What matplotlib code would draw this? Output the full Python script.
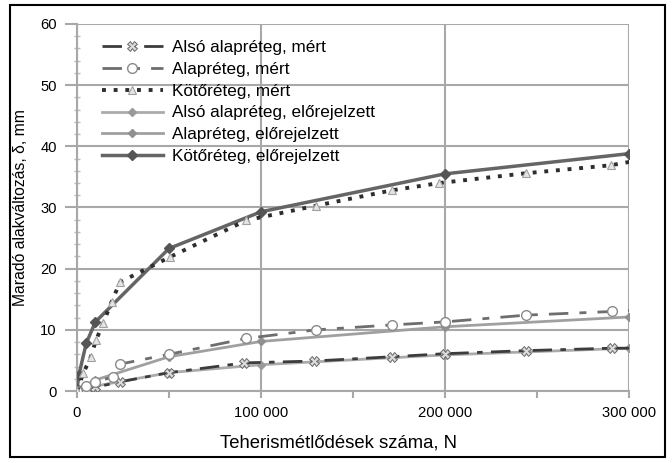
import matplotlib
matplotlib.use("Agg")
import matplotlib.pyplot as plt
import matplotlib.patches as patches
from matplotlib.ticker import FuncFormatter, MultipleLocator

plt.rcParams['font.family'] = ['Liberation Sans', 'DejaVu Sans']
plt.rcParams['font.size'] = 10.6

# mért értékek
n_also_mert = [0, 5000, 10000, 23400, 50000, 91000, 129000, 171000, 200000, 244000, 291000, 303000]
v_also_mert = [0, 0.3, 0.6, 1.5, 3.0, 4.6, 4.9, 5.6, 6.1, 6.6, 7.0, 7.0]

n_alap_mert = [0, 5000, 10000, 19700, 23400, 50000, 92000, 130000, 171000, 200000, 244000, 291000, 303000]
v_alap_mert = [0, 0.8, 1.5, 2.3, 4.4, 6.0, 8.6, 10.0, 10.8, 11.3, 12.4, 13.0, 13.2]

n_koto_mert = [0, 3400, 7400, 10300, 14300, 18800, 23400, 50500, 92000, 130000, 171000, 197000, 244000, 290000, 303000]
v_koto_mert = [0, 2.9, 5.5, 8.3, 11.1, 14.6, 17.8, 21.9, 27.9, 30.3, 32.8, 34.0, 35.6, 36.9, 37.6]

# előrejelzett értékek
n_pred = [0, 1000, 5000, 10000, 50000, 100000, 200000, 300000]
v_also_pred = [0, 0.1, 0.4, 0.8, 3.0, 4.3, 5.9, 7.0]
v_alap_pred = [0, 0.3, 1.0, 1.8, 5.6, 8.1, 10.5, 12.1]
v_koto_pred = [0.3, 2.6, 7.8, 11.3, 23.3, 29.3, 35.5, 38.8]

x_ticks = [0, 100000, 200000, 300000]
y_ticks = [0, 10, 20, 30, 40, 50, 60]

fig = plt.figure(figsize=(6.72, 4.63), dpi=100)
ax = fig.add_axes([0.1146, 0.1555, 0.8214, 0.7927])

grid_c = '#a8a8a8'

ax.plot(n_also_mert, v_also_mert, color='#3c3c3c', lw=2.0, dashes=(7, 3, 2, 3),
        marker='X', ms=7, mfc='#dcdcdc', mec='#6a6a6a', mew=0.7,
        label='Alsó alapréteg, mért', zorder=4)
ax.plot(n_alap_mert, v_alap_mert, color='#6e6e6e', lw=2.0, dashes=(7, 4, 2.5, 4),
        marker='o', ms=7, mfc='white', mec='#8a8a8a', mew=1.0,
        label='Alapréteg, mért', zorder=4)
ax.plot(n_koto_mert, v_koto_mert, color='#2e2e2e', lw=2.8, dashes=(1.0, 2.0),
        marker='^', ms=6, mfc='#e4e4e4', mec='#a0a0a0', mew=0.8,
        label='Kötőréteg, mért', zorder=4)
ax.plot(n_pred, v_also_pred, color='#ababab', lw=2.0,
        marker='D', ms=4, mfc='#9a9a9a', mec='#9a9a9a',
        label='Alsó alapréteg, előrejelzett', zorder=3)
ax.plot(n_pred, v_alap_pred, color='#a0a0a0', lw=2.0,
        marker='D', ms=4, mfc='#909090', mec='#909090',
        label='Alapréteg, előrejelzett', zorder=3)
ax.plot(n_pred, v_koto_pred, color='#656565', lw=2.5,
        marker='D', ms=5, mfc='#555555', mec='#555555',
        label='Kötőréteg, előrejelzett', zorder=3)

ax.set_xlim(0, 300000)
ax.set_ylim(0, 60)
ax.set_xticks(x_ticks)
ax.set_yticks(y_ticks)
ax.xaxis.set_minor_locator(MultipleLocator(50000))
ax.yaxis.set_minor_locator(MultipleLocator(2))
ax.xaxis.set_major_formatter(FuncFormatter(lambda x, pos: f'{int(x):,}'.replace(',', ' ')))

ax.grid(True, which='major', color=grid_c, lw=1.5)
ax.set_axisbelow(True)
for side in ['top', 'right']:
    ax.spines[side].set_visible(False)
for side in ['left', 'bottom']:
    ax.spines[side].set_color(grid_c)
    ax.spines[side].set_linewidth(1.5)

ax.tick_params(axis='y', which='major', length=9, width=1.5, color=grid_c, pad=5.5)
ax.tick_params(axis='y', which='minor', length=5, width=1.0, color='#bbbbbb', direction='inout')
ax.tick_params(axis='x', which='both', length=5, width=1.5, color=grid_c, pad=6)

ax.set_xlabel('Teherismétlődések száma, N', fontsize=13.3, labelpad=7)
ax.xaxis.set_label_coords(0.473, -0.118)
ax.set_ylabel('Maradó alakváltozás, δ, mm', fontsize=11.3, labelpad=9)

ax.legend(loc='upper left', bbox_to_anchor=(0.032, 0.975), frameon=False,
          handlelength=3.6, handletextpad=0.55, labelspacing=0.4, fontsize=12.3,
          borderaxespad=0)

# keret az egész ábra körül
fig.patches.append(patches.Rectangle((0.015, 0.012), 0.975, 0.977, transform=fig.transFigure,
                                     fill=False, ec='black', lw=1.5))

fig.savefig('out.png', dpi=100)
